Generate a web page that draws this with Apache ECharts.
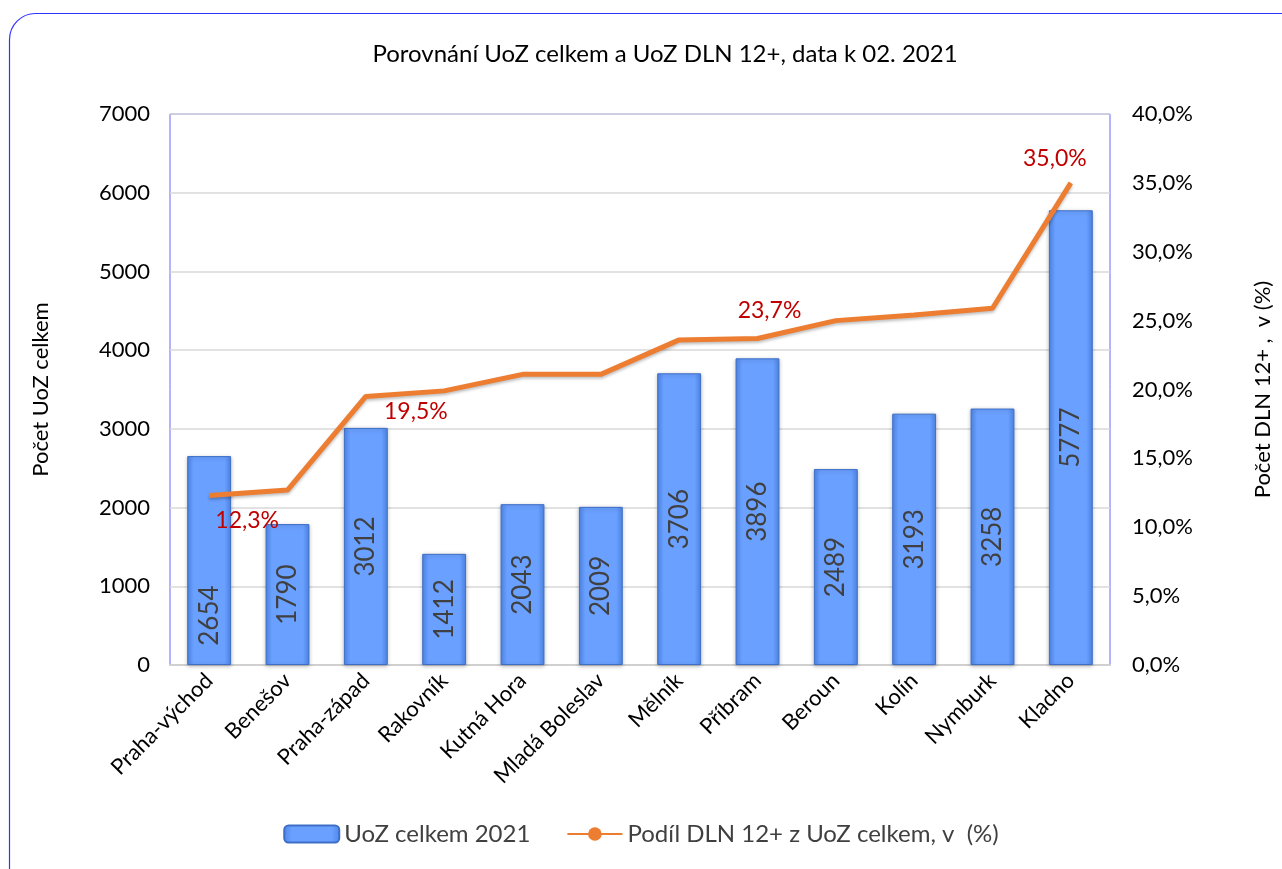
<!DOCTYPE html>
<html>
<head>
<meta charset="utf-8">
<script src="https://cdn.jsdelivr.net/npm/echarts@6/dist/echarts.min.js"></script>
<style>
  html, body { margin: 0; padding: 0; background: #fff; }
  #chart { width: 1282px; height: 869px; }
</style>
</head>
<body>
<div id="chart"></div>
<script>
// okresy
var districts = ['Praha-východ', 'Benešov', 'Praha-západ', 'Rakovník', 'Kutná Hora', 'Mladá Boleslav',
  'Mělník', 'Příbram', 'Beroun', 'Kolín', 'Nymburk', 'Kladno'];
// UoZ celkem 2021
var uozTotal = [2654, 1790, 3012, 1412, 2043, 2009, 3706, 3896, 2489, 3193, 3258, 5777];
// podil DLN 12+ (%)
var dlnShare = [12.3, 12.7, 19.5, 19.9, 21.1, 21.1, 23.6, 23.7, 25.0, 25.4, 25.9, 35.0];
// ktere body maji popisek
var labeled = [0, 2, 7, 11];

var FONT = 'Lato';
var chart = echarts.init(document.getElementById('chart'));

var barFill = new echarts.graphic.LinearGradient(0, 0, 1, 0, [
  { offset: 0, color: '#4f86e8' },
  { offset: 0.15, color: '#6aa0ff' },
  { offset: 0.85, color: '#6aa0ff' },
  { offset: 1, color: '#4f86e8' }
]);

var barData = uozTotal.map(function (v, i) {
  var item = { value: v };
  // popisek u prvniho sloupce je posunuty dolu (offset je v otocenych souradnicich)
  if (i === 0) item.label = { offset: [-55, 0] };
  return item;
});

var lineData = dlnShare.map(function (v, i) {
  var item = { value: v };
  var k = labeled.indexOf(i);
  if (k >= 0) {
    var offs = [[38, 25], [50, 15], [12, -28], [-16, -24]][k];
    item.label = { show: true, position: 'inside', offset: offs };
  }
  return item;
});

chart.setOption({
  animation: false,
  textStyle: { fontFamily: FONT },
  graphic: [{
    type: 'rect',
    shape: { x: 9.5, y: 13.5, width: 1320, height: 880, r: 26 },
    style: { fill: 'none', stroke: '#3333ff', lineWidth: 1.2 },
    z: -10
  }],
  title: {
    text: 'Porovnání UoZ celkem a UoZ DLN 12+, data k 02. 2021',
    left: 660, top: 37, textAlign: 'center',
    textStyle: { fontFamily: FONT, fontSize: 24, fontWeight: 'normal', color: '#000' }
  },
  legend: {
    bottom: 18, left: 'center', itemGap: 36, itemWidth: 55, itemHeight: 17,
    textStyle: { fontFamily: FONT, fontSize: 24, color: '#404040' },
    data: ['UoZ celkem 2021', 'Podíl DLN 12+ z UoZ celkem, v  (%)']
  },
  grid: {
    left: 170, top: 114, right: 165, bottom: 204,
    show: true, borderColor: '#6666ff', borderWidth: 1
  },
  xAxis: {
    type: 'category',
    data: districts,
    axisLine: { lineStyle: { color: '#d0d0d0', width: 2 } },
    axisTick: { show: false },
    axisLabel: { rotate: 45, fontFamily: FONT, fontSize: 22, color: '#000', margin: 12 }
  },
  yAxis: [{
    type: 'value', min: 0, max: 7000, interval: 1000,
    name: 'Počet UoZ celkem', nameLocation: 'middle', nameGap: 118,
    nameTextStyle: { fontFamily: FONT, fontSize: 22, color: '#000' },
    axisLine: { show: false }, axisTick: { show: false },
    axisLabel: { fontFamily: FONT, fontSize: 22, color: '#000', margin: 20,
      formatter: function (v) { return String(v); } },
    splitLine: { lineStyle: { color: '#d9d9d9', width: 1.5 } }
  }, {
    type: 'value', min: 0, max: 40, interval: 5,
    name: 'Počet DLN 12+ ,  v (%)', nameLocation: 'middle', nameGap: 142, nameRotate: 90,
    nameTextStyle: { fontFamily: FONT, fontSize: 22, color: '#000' },
    axisLine: { show: false }, axisTick: { show: false },
    axisLabel: {
      fontFamily: FONT, fontSize: 22, color: '#000', margin: 22,
      formatter: function (v) { return v.toFixed(1).replace('.', ',') + '%'; }
    },
    splitLine: { show: false }
  }],
  series: [{
    name: 'UoZ celkem 2021',
    type: 'bar',
    barWidth: '56%',
    data: barData,
    itemStyle: { color: barFill, borderColor: '#3d6fc8', borderWidth: 1,
      shadowColor: 'rgba(0,0,0,0.25)', shadowBlur: 4, shadowOffsetY: 1 },
    label: {
      show: true, position: 'inside', rotate: 90,
      fontFamily: FONT, fontSize: 26, color: '#404040'
    }
  }, {
    name: 'Podíl DLN 12+ z UoZ celkem, v  (%)',
    type: 'line',
    yAxisIndex: 1,
    data: lineData,
    symbol: 'circle', symbolSize: 0, showSymbol: true,
    itemStyle: { color: '#ED7D31' },
    lineStyle: { color: '#ED7D31', width: 5, shadowColor: 'rgba(0,0,0,0.25)', shadowBlur: 3, shadowOffsetY: 2 },
    label: {
      fontFamily: FONT, fontSize: 23, color: '#C00000',
      formatter: function (p) { return p.value.toFixed(1).replace('.', ',') + '%'; }
    },
    z: 5
  }]
});
</script>
</body>
</html>
